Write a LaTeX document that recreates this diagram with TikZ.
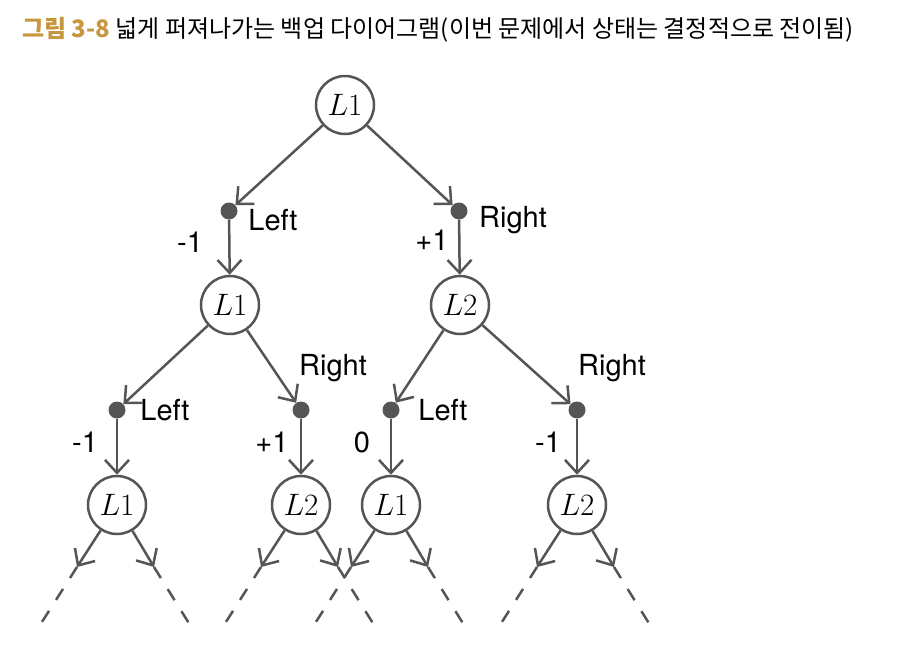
\RequirePackage{fix-cm}
\documentclass[tikz,border=0pt]{standalone}
\usepackage{fontspec}
\setsansfont{TeX Gyre Heros}
\newfontfamily\kofont{Noto Sans CJK KR}
\usetikzlibrary{arrows.meta}
\definecolor{edgegray}{HTML}{555555}
\definecolor{titlegold}{HTML}{C8963E}
\tikzset{
  state/.style={circle, draw=edgegray, line width=2.5pt, fill=white, minimum size=58pt, inner sep=0pt, font=\fontsize{31}{36}\selectfont},
  act/.style={circle, fill=edgegray, minimum size=17pt, inner sep=0pt},
  lbl/.style={font=\sffamily\fontsize{29}{34}\selectfont},
  arr/.style={draw=edgegray, line width=2.5pt, -{Straight Barb[length=13pt,width=24pt,line width=2.5pt]}},
  cont/.style={draw=edgegray, line width=2.5pt, dash pattern=on 13pt off 13pt}
}
\begin{document}
\begin{tikzpicture}[x=1pt,y=-1pt]
\useasboundingbox (0,0) rectangle (897,656);

% title
\node[anchor=west, inner sep=0pt, font=\kofont\fontsize{24}{28}\selectfont] (title) at (22,30)
  {\textcolor{titlegold}{\bfseries 그림 3-8} 넓게 퍼져나가는 백업 다이어그램(이번 문제에서 상태는 결정적으로 전이됨)};

% states and actions
\node[state] (s0) at (345,105) {$L1$};
\node[act] (a0) at (229,211) {};
\node[act] (a1) at (459,211) {};
\node[state] (s1) at (230,305) {$L1$};
\node[state] (s2) at (460,305) {$L2$};
\node[act] (a10) at (117,410) {};
\node[act] (a11) at (301,410) {};
\node[act] (a20) at (391,410) {};
\node[act] (a21) at (577,410) {};
\node[state] (s10) at (117,505) {$L1$};
\node[state] (s11) at (301,505) {$L2$};
\node[state] (s20) at (391,505) {$L1$};
\node[state] (s21) at (577,505) {$L2$};

\draw[arr] (s0) -- (a0);
\draw[arr] (s0) -- (a1);
\draw[arr] (a0) -- (s1);
\draw[arr] (a1) -- (s2);
\draw[arr] (s1) -- (a10);
\draw[arr] (s1) -- (a11);
\draw[arr] (s2) -- (a20);
\draw[arr] (s2) -- (a21);
\draw[arr] (a10) -- (s10);
\draw[arr] (a11) -- (s11);
\draw[arr] (a20) -- (s20);
\draw[arr] (a21) -- (s21);

% labels
\node[lbl] (l0) at (273,220) {Left};
\node[lbl] (r0) at (190,242) {-1};
\node[lbl] (l1) at (513,220) {Right};
\node[lbl] (r1) at (432,240) {+1};
\node[lbl] (l10) at (165,410) {Left};
\node[lbl] (r10) at (85,442) {-1};
\node[lbl] (l11) at (333,368) {Right};
\node[lbl] (r11) at (272,442) {+1};
\node[lbl] (l20) at (443,410) {Left};
\node[lbl] (r20) at (362,442) {0};
\node[lbl] (l21) at (612,368) {Right};
\node[lbl] (r21) at (548,442) {-1};

% next level
\foreach \s/\x in {s10/117, s11/301, s20/391, s21/577} {
  \coordinate (\s l) at (\x-40,567);
  \coordinate (\s r) at (\x+37,567);
  \coordinate (\s ll) at (\x-77,625);
  \coordinate (\s rr) at (\x+73,625);
  \draw[arr] (\s) -- (\s l);
  \draw[arr] (\s) -- (\s r);
  \draw[cont] (\s l) -- (\s ll);
  \draw[cont] (\s r) -- (\s rr);
}
\end{tikzpicture}
\end{document}
